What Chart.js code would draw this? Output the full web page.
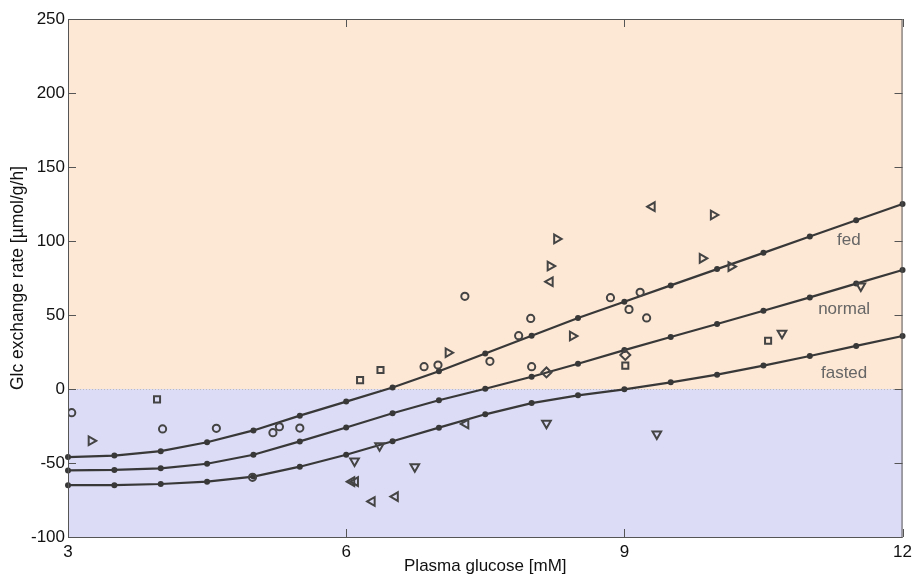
<!DOCTYPE html>
<html>
<head>
<meta charset="utf-8">
<script src="https://cdn.jsdelivr.net/npm/chart.js@4"></script>
<style>html,body{margin:0;padding:0;background:#fff}</style>
</head>
<body>
<canvas id="c" width="917" height="574"></canvas>
<script>
// model curves, one dot every 0.5 mM
const glucose = [3, 3.5, 4, 4.5, 5, 5.5, 6, 6.5, 7, 7.5, 8, 8.5, 9, 9.5, 10, 10.5, 11, 11.5, 12];
const fed    = [-46, -45, -42, -36, -28, -18, -8.5, 1, 12, 24, 36, 48, 59, 70, 81, 92, 103, 114, 125];
const normal = [-55, -54.7, -53.6, -50.5, -44.4, -35.4, -26, -16.4, -7.6, 0.2, 8.3, 17.1, 26.3, 35.1, 43.9, 52.9, 61.9, 71.2, 80.4];
const fasted = [-65, -65, -64.2, -62.6, -59.2, -52.5, -44.4, -35.3, -26.1, -17.1, -9.5, -4.3, -0.2, 4.5, 9.7, 15.8, 22.3, 29.1, 35.8];

// measurements, by marker
const circX = [3.04, 4.02, 4.6, 5.21, 5.28, 5.5, 4.99, 6.84, 6.99, 7.28, 7.55, 7.86, 7.99, 8.0, 8.85, 9.05, 9.17, 9.24];
const circY = [-16, -27, -26.6, -29.5, -25.5, -26.4, -59.7, 15.1, 16.2, 62.6, 18.7, 36, 47.7, 15.1, 61.7, 53.8, 65.3, 48];
const sqX = [3.96, 6.15, 6.37, 9.01, 10.55];
const sqY = [-7, 6, 12.8, 15.8, 32.6];
const diaX = [8.16, 9.01];
const diaY = [11.2, 23];
const rightX = [3.25, 7.1, 8.2, 8.27, 8.44, 9.84, 9.96, 10.15];
const rightY = [-35, 24.5, 83.1, 101.4, 35.8, 88.3, 117.6, 82.7];
const leftX = [6.06, 6.1, 6.28, 6.53, 7.29, 8.2, 9.3];
const leftY = [-62.6, -62.6, -76, -72.7, -23.6, 72.5, 123.2];
const downX = [6.09, 6.36, 6.74, 8.16, 9.35, 10.7, 11.55];
const downY = [-48.6, -38.3, -52.5, -23.2, -30.4, 37.6, 69.6];

const curveNames = ['fed', 'normal', 'fasted'];
const curveNameX = [11.42, 11.37, 11.37];
const curveNameY = [100.6, 54, 10.8];

const xTicks = [3, 6, 9, 12];
const yTicks = [-100, -50, 0, 50, 100, 150, 200, 250];

const pts = (xs, ys) => xs.map((x, i) => ({ x, y: ys[i] }));
const FONT = 'Liberation Sans, Arial, Helvetica, sans-serif';
const LINE = '#383838', MARK = '#444';

function curve(ys) {
  return { data: pts(glucose, ys), showLine: true, borderColor: LINE, borderWidth: 2.2,
    pointRadius: 3, pointBackgroundColor: LINE, pointBorderWidth: 0, clip: false, order: 1 };
}
function marks(xs, ys, style, rot, r) {
  return { data: pts(xs, ys), showLine: false, pointStyle: style, pointRotation: rot || 0,
    pointRadius: r, pointBorderColor: MARK, pointBorderWidth: 2, pointBackgroundColor: 'rgba(0,0,0,0)', order: 0 };
}

const frame = {
  id: 'frame',
  beforeDatasetsDraw(chart) {
    const { ctx, chartArea: a, scales: { y } } = chart;
    const y0 = y.getPixelForValue(0);
    ctx.save();
    ctx.fillStyle = '#fde7d5';
    ctx.fillRect(a.left, a.top, a.right - a.left, y0 - a.top);
    ctx.fillStyle = '#dcdcf6';
    ctx.fillRect(a.left, y0, a.right - a.left, a.bottom - y0);
    ctx.strokeStyle = '#bcbcbc'; ctx.lineWidth = 1; ctx.setLineDash([1, 2]);
    ctx.beginPath(); ctx.moveTo(a.left, y0 + 0.5); ctx.lineTo(a.right, y0 + 0.5); ctx.stroke();
    ctx.restore();
  },
  afterDatasetsDraw(chart) {
    const { ctx, chartArea: a, scales: { x, y } } = chart;
    ctx.save();
    // curve names
    ctx.font = '17px ' + FONT; ctx.fillStyle = '#666'; ctx.textAlign = 'center'; ctx.textBaseline = 'middle';
    curveNames.forEach((n, i) => ctx.fillText(n, x.getPixelForValue(curveNameX[i]), y.getPixelForValue(curveNameY[i])));
    // box + inward ticks
    ctx.strokeStyle = '#555'; ctx.lineWidth = 1;
    ctx.strokeRect(a.left + 0.5, a.top + 0.5, a.right - a.left - 1, a.bottom - a.top);
    ctx.beginPath();
    y.ticks.forEach(t => {
      const p = Math.round(y.getPixelForValue(t.value)) + 0.5;
      ctx.moveTo(a.left, p); ctx.lineTo(a.left + 8, p);
      ctx.moveTo(a.right, p); ctx.lineTo(a.right - 8, p);
    });
    x.ticks.forEach(t => {
      const p = Math.round(x.getPixelForValue(t.value)) + 0.5;
      ctx.moveTo(p, a.bottom); ctx.lineTo(p, a.bottom - 8);
      ctx.moveTo(p, a.top); ctx.lineTo(p, a.top + 8);
    });
    ctx.stroke();
    ctx.restore();
  }
};

new Chart(document.getElementById('c'), {
  type: 'scatter',
  data: {
    datasets: [
      curve(fed), curve(normal), curve(fasted),
      marks(circX, circY, 'circle', 0, 3.6),
      marks(sqX, sqY, 'rect', 0, 4.3),
      marks(diaX, diaY, 'rectRot', 0, 5),
      marks(rightX, rightY, 'triangle', 90, 5),
      marks(leftX, leftY, 'triangle', 270, 5),
      marks(downX, downY, 'triangle', 180, 5)
    ]
  },
  options: {
    responsive: false,
    animation: false,
    layout: { padding: { top: 19, right: 12, left: 0, bottom: 0 } },
    plugins: { legend: { display: false }, tooltip: { enabled: false } },
    scales: {
      x: {
        type: 'linear', min: 3, max: 12,
        afterBuildTicks: s => { s.ticks = xTicks.map(v => ({ value: v })); },
        ticks: { font: { family: FONT, size: 17 }, color: '#111', padding: 5, maxRotation: 0 },
        grid: { display: false, drawTicks: false }, border: { display: false },
        title: { display: true, text: 'Plasma glucose [mM]', font: { family: FONT, size: 17, lineHeight: 1 }, color: '#111', padding: { top: 0, bottom: -1 } },
        afterFit: s => { s.height = 37; }
      },
      y: {
        min: -100, max: 250,
        afterBuildTicks: s => { s.ticks = yTicks.map(v => ({ value: v })); },
        ticks: { font: { family: FONT, size: 17 }, color: '#111', padding: 3 },
        grid: { display: false, drawTicks: false }, border: { display: false },
        title: { display: true, text: 'Glc exchange rate [µmol/g/h]', font: { family: FONT, size: 17.5 }, color: '#111', padding: { top: 8, bottom: 0 } },
        afterFit: s => { s.width = 68; }
      }
    }
  },
  plugins: [frame]
});
</script>
</body>
</html>
